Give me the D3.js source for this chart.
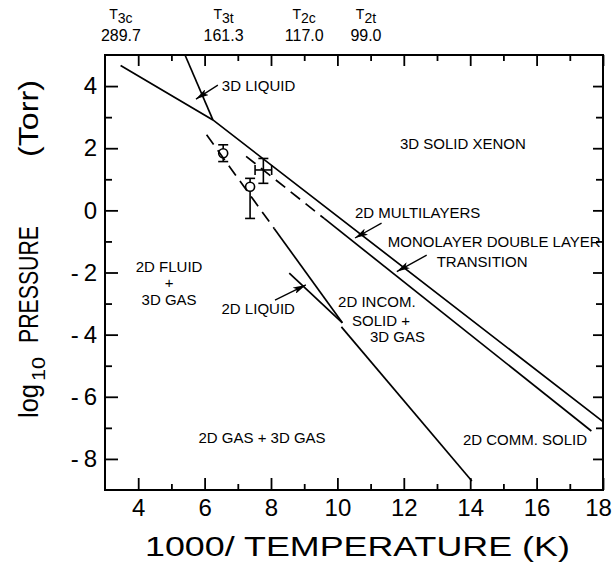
<!DOCTYPE html>
<html><head><meta charset="utf-8">
<script src="https://cdn.jsdelivr.net/npm/d3@7"></script>
<style>
html,body{margin:0;padding:0;background:#fff;}
svg{display:block;font-family:"Liberation Sans",Arial,sans-serif;}
</style></head><body>
<svg id="chart" width="613" height="565"></svg>
<script>
// Phase diagram of xenon on graphite: log10 P against 1000/T

// axis ticks
const xMajorTicks = [4, 6, 8, 10, 12, 14, 16, 18];
const xMinorTicks = [5, 7, 9, 11, 13, 15, 17];
const yMajorTicks = [-8, -6, -4, -2, 0, 2, 4];
const yMinorTicks = [-7, -5, -3, -1, 1, 3];

// characteristic temperatures shown above the frame
const transitionNames = ["3c", "3t", "2c", "2t"];
const transitionTemps = ["289.7", "161.3", "117.0", "99.0"];
const transitionLabelX = [3.48, 6.57, 9.0, 10.86];

// phase boundaries as (1000/T, log10 P) points
const bulkVapour = [[3.47, 4.66], [6.25, 2.91], [18.0, -6.8]];
const bulkMelting = [[5.41, 5.0], [6.25, 2.91]];
const layeringDashed = [[7.25, 1.74], [9.6, -0.26]];
const layeringSolid = [[9.6, -0.26], [17.65, -7.1]];
const melting2DDashed = [[6.06, 2.43], [8.1, -0.59]];
const melting2DSolid = [[8.1, -0.59], [10.15, -3.62]];
const liquidGas2D = [[8.55, -2.02], [10.15, -3.62]];
const solidGas2D = [[10.12, -3.75], [14.05, -8.71]];

// measured points with error bars
const pointX = [6.56, 7.37, 7.77];
const pointY = [1.84, 0.76, 1.30];
const pointYLow = [1.57, -0.26, 0.87];
const pointYHigh = [2.11, 1.03, 1.67];
const pointXLow = [null, null, 7.52];
const pointXHigh = [null, null, 8.02];
const pointCircle = [true, true, false];

// region labels: text lines, anchor x, baseline y, alignment
const regionText = [
  ["3D LIQUID"], ["3D SOLID XENON"], ["2D MULTILAYERS"],
  ["MONOLAYER DOUBLE LAYER"], ["TRANSITION"],
  ["2D FLUID", "+", "3D GAS"], ["2D LIQUID"],
  ["2D INCOM."], ["SOLID +"], ["3D GAS"],
  ["2D GAS + 3D GAS"], ["2D COMM. SOLID"]
];
const regionX = [6.52, 13.78, 10.53, 11.52, 12.99, 4.93, 6.51, 10.02, 10.44, 10.98, 7.73, 13.78];
const regionY = [3.83, 1.99, -0.26, -1.18, -1.82, -1.97, -3.32, -3.11, -3.71, -4.24, -7.49, -7.54];
const regionAnchor = ["start", "middle", "start", "start", "start", "middle", "start", "start", "start", "start", "middle", "start"];

// pointer arrows: from label to boundary
const arrowFrom = [[6.4, 4.03], [11.33, -0.41], [12.69, -1.44], [8.12, -2.89]];
const arrowTo = [[5.74, 3.58], [10.53, -0.89], [11.79, -1.97], [9.05, -2.40]];

const svg = d3.select("#chart");
const W = 613, H = 565;
svg.append("rect").attr("width", W).attr("height", H).attr("fill", "#fff");

const x = d3.scaleLinear().domain([3, 18]).range([105, 603]);
const y = d3.scaleLinear().domain([-9, 5]).range([490, 55]);

const defs = svg.append("defs");
defs.append("marker").attr("id", "head")
  .attr("viewBox", "0 0 13 7").attr("refX", 13).attr("refY", 3.5)
  .attr("markerWidth", 13).attr("markerHeight", 7)
  .attr("markerUnits", "userSpaceOnUse").attr("orient", "auto")
  .append("path").attr("d", "M0,0L13,3.5L0,7L3,3.5Z").attr("fill", "#000");

// axes (ticks point into the frame)
function styleAxis(g) {
  g.select(".domain").remove();
  g.selectAll(".tick line").attr("stroke", "#000").attr("stroke-width", 1.8);
  g.selectAll(".tick text").attr("fill", "#000")
    .attr("font-family", "Liberation Sans, Arial, sans-serif").attr("font-size", 24);
}
const fmt = d => d < 0 ? "-\u2009" + Math.abs(d) : String(d);

const xAxisG = svg.append("g").attr("transform", `translate(0,${y(-9)})`)
  .call(d3.axisBottom(x).tickValues(xMajorTicks).tickSize(-12).tickPadding(9).tickFormat(fmt)).call(styleAxis);
// keep the last label inside the page
xAxisG.selectAll(".tick text").filter(d => d === 18).attr("dx", -5);
svg.append("g").attr("transform", `translate(0,${y(-9)})`)
  .call(d3.axisBottom(x).tickValues(xMinorTicks).tickSize(-6).tickFormat("")).call(styleAxis);
svg.append("g").attr("transform", `translate(0,${y(5)})`)
  .call(d3.axisTop(x).tickValues(xMajorTicks).tickSize(-11).tickFormat("")).call(styleAxis);
svg.append("g").attr("transform", `translate(0,${y(5)})`)
  .call(d3.axisTop(x).tickValues(xMinorTicks).tickSize(-6).tickFormat("")).call(styleAxis);
svg.append("g").attr("transform", `translate(${x(3)},0)`)
  .call(d3.axisLeft(y).tickValues(yMajorTicks).tickSize(-13).tickPadding(8).tickFormat(fmt)).call(styleAxis);
svg.append("g").attr("transform", `translate(${x(3)},0)`)
  .call(d3.axisLeft(y).tickValues(yMinorTicks).tickSize(-7).tickFormat("")).call(styleAxis);
svg.append("g").attr("transform", `translate(${x(18)},0)`)
  .call(d3.axisRight(y).tickValues(yMajorTicks).tickSize(-10).tickFormat("")).call(styleAxis);
svg.append("g").attr("transform", `translate(${x(18)},0)`)
  .call(d3.axisRight(y).tickValues(yMinorTicks).tickSize(-7).tickFormat("")).call(styleAxis);

// frame
svg.append("rect")
  .attr("x", x(3)).attr("y", y(5))
  .attr("width", x(18) - x(3)).attr("height", y(-9) - y(5))
  .attr("fill", "none").attr("stroke", "#000").attr("stroke-width", 2);

// top temperature markers
const topLabels = svg.append("g").attr("fill", "#000");
transitionNames.forEach((n, i) => {
  const t = topLabels.append("text").attr("x", x(transitionLabelX[i])).attr("y", 19)
    .attr("text-anchor", "middle").attr("font-size", 14);
  t.append("tspan").text("T");
  t.append("tspan").attr("dy", 4).attr("font-size", 14).text(n);
  topLabels.append("text").attr("x", x(transitionLabelX[i])).attr("y", 41)
    .attr("text-anchor", "middle").attr("font-size", 16).text(transitionTemps[i]);
});

// phase boundaries
const line = d3.line().x(d => x(d[0])).y(d => y(d[1]));
const curves = svg.append("g").attr("fill", "none").attr("stroke", "#000").attr("stroke-width", 1.7);
[bulkVapour, bulkMelting, layeringSolid, melting2DSolid, liquidGas2D, solidGas2D].forEach(c =>
  curves.append("path").attr("d", line(c)));
[layeringDashed, melting2DDashed].forEach(c =>
  curves.append("path").attr("d", line(c)).attr("stroke-dasharray", "12,7"));

// data points with error bars
const R = 4.5;
const pts = svg.append("g").attr("stroke", "#000").attr("stroke-width", 1.6);
pointX.forEach((px, i) => {
  const cx = x(px), cy = y(pointY[i]);
  const gap = pointCircle[i] ? R : 0;
  pts.append("line").attr("x1", cx).attr("x2", cx)
    .attr("y1", y(pointYHigh[i])).attr("y2", cy - gap);
  pts.append("line").attr("x1", cx).attr("x2", cx)
    .attr("y1", cy + gap).attr("y2", y(pointYLow[i]));
  [pointYLow[i], pointYHigh[i]].forEach(v =>
    pts.append("line").attr("x1", cx - 5).attr("x2", cx + 5).attr("y1", y(v)).attr("y2", y(v)));
  if (pointXLow[i] !== null) {
    pts.append("line").attr("x1", x(pointXLow[i])).attr("x2", x(pointXHigh[i]))
      .attr("y1", cy).attr("y2", cy);
    [pointXLow[i], pointXHigh[i]].forEach(v =>
      pts.append("line").attr("x1", x(v)).attr("x2", x(v)).attr("y1", cy - 5).attr("y2", cy + 5));
  }
  if (pointCircle[i]) {
    pts.append("circle").attr("cx", cx).attr("cy", cy).attr("r", R).attr("fill", "none");
  }
});

// region labels
const labels = svg.append("g").attr("fill", "#000").attr("font-size", 15);
regionText.forEach((lines, i) => {
  lines.forEach((s, j) => {
    labels.append("text")
      .attr("x", x(regionX[i])).attr("y", y(regionY[i]) + j * 16.5)
      .attr("text-anchor", regionAnchor[i]).text(s);
  });
});

// pointer arrows
const arrows = svg.append("g").attr("stroke", "#000").attr("stroke-width", 1.3);
arrowFrom.forEach((f, i) => {
  arrows.append("line")
    .attr("x1", x(f[0])).attr("y1", y(f[1]))
    .attr("x2", x(arrowTo[i][0])).attr("y2", y(arrowTo[i][1]))
    .attr("marker-end", "url(#head)");
});

// stretch a text horizontally (in its own frame) to a given length
function fitWidth(sel, x0, y0, width) {
  const w = sel.node().getComputedTextLength();
  sel.attr("x", 0).attr("y", 0)
    .attr("transform", `translate(${x0},${y0}) scale(${width / w},1)`);
}

// axis titles
const xt = svg.append("text").attr("font-size", 28).text("1000/ TEMPERATURE (K)");
fitWidth(xt, 145, 556, 425);

const yt = svg.append("g").attr("transform", "translate(38,418) rotate(-90)").attr("font-size", 28);
fitWidth(yt.append("text").text("log"), 0, 0, 34);
fitWidth(yt.append("text").attr("font-size", 19).text("10"), 37, 7, 24);
fitWidth(yt.append("text").text("PRESSURE"), 75, 0, 117);
fitWidth(yt.append("text").text("(Torr)"), 261, 0, 77);
</script>
</body></html>
